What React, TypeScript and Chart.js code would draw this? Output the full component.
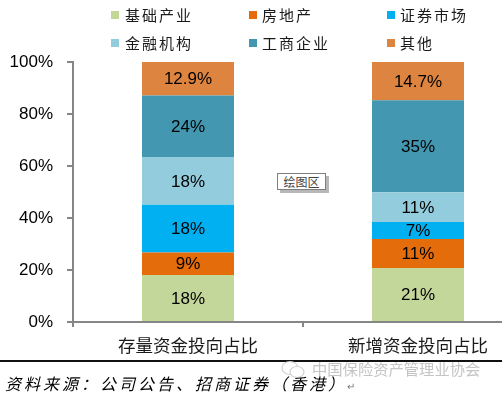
import React, { useEffect, useRef } from "react";
import { Chart, registerables } from "chart.js";

Chart.register(...registerables);

const categories = ["存量资金投向占比", "新增资金投向占比"];
const seriesNames = ["基础产业", "房地产", "证券市场", "金融机构", "工商企业", "其他"];
const seriesColors = ["#C4D79B", "#E46C0A", "#00B0F0", "#93CDDD", "#4397B0", "#DE8441"];
const labelDecimals = [0, 0, 0, 0, 0, 1];
const infraValues = [18.1, 20.8];
const realEstateValues = [8.6, 11.1];
const securitiesValues = [18.4, 6.6];
const finInstValues = [18.4, 11.4];
const industryValues = [23.6, 35.4];
const otherValues = [12.9, 14.7];
const seriesValues = [infraValues, realEstateValues, securitiesValues, finInstValues, industryValues, otherValues];
const yTicks = [0, 20, 40, 60, 80, 100];

const CANVAS_W = 540;
const CANVAS_H = 360;
const AXIS_GRAY = "#868686";

const valueLabelPlugin = {
  id: "valueLabels",
  afterDatasetsDraw(chart: any) {
    const ctx = chart.ctx;
    ctx.save();
    ctx.font = "17px 'Liberation Sans', Arial, sans-serif";
    ctx.fillStyle = "#000";
    ctx.textAlign = "center";
    ctx.textBaseline = "middle";
    chart.data.datasets.forEach((ds: any, di: number) => {
      const meta = chart.getDatasetMeta(di);
      meta.data.forEach((el: any, i: number) => {
        const v = ds.data[i];
        const txt = v.toFixed(labelDecimals[di]) + "%";
        ctx.fillText(txt, el.x, (el.y + el.base) / 2 + 1);
      });
    });
    ctx.restore();
  },
};

function ChartCanvas() {
  const ref = useRef<HTMLCanvasElement>(null);
  useEffect(() => {
    if (!ref.current) return;
    const chart = new Chart(ref.current, {
      type: "bar",
      data: {
        labels: categories,
        datasets: seriesNames.map((name, i) => ({
          label: name,
          data: seriesValues[i],
          backgroundColor: seriesColors[i],
          borderWidth: 0,
          categoryPercentage: 1,
          barPercentage: 0.4,
        })),
      },
      options: {
        responsive: false,
        animation: false,
        layout: { padding: { top: 62, right: 7, left: 0, bottom: 0 } },
        plugins: { legend: { display: false }, tooltip: { enabled: false }, title: { display: false } },
        scales: {
          x: {
            stacked: true,
            offset: true,
            grid: { display: true, drawOnChartArea: false, drawTicks: true, tickLength: 5, color: AXIS_GRAY, lineWidth: 2, offset: true },
            border: { display: true, color: AXIS_GRAY, width: 2 },
            ticks: { color: "#1a1a1a", padding: 8, font: { family: "'Noto Sans CJK SC', sans-serif", size: 17.5 } },
            afterFit: (s: any) => { s.height = CANVAS_H - 322; },
          },
          y: {
            stacked: true,
            min: 0,
            max: 100,
            afterBuildTicks: (s: any) => { s.ticks = yTicks.map((v) => ({ value: v })); },
            grid: { display: true, drawOnChartArea: false, drawTicks: true, tickLength: 6, color: AXIS_GRAY, lineWidth: 2 },
            border: { display: true, color: AXIS_GRAY, width: 2 },
            ticks: {
              color: "#000",
              padding: 14,
              font: { family: "'Liberation Sans', Arial, sans-serif", size: 17 },
              callback: (v: any) => v + "%",
            },
            afterFit: (s: any) => { s.width = 73; },
          },
        },
      },
      plugins: [valueLabelPlugin],
    });
    return () => chart.destroy();
  }, []);
  return <canvas ref={ref} width={CANVAS_W} height={CANVAS_H} style={{ width: CANVAS_W, height: CANVAS_H, display: "block" }} />;
}

const legendPos = [
  { sx: 111, tx: 125, cy: 15 },
  { sx: 249, tx: 262, cy: 15 },
  { sx: 387, tx: 400, cy: 15 },
  { sx: 111, tx: 125, cy: 43 },
  { sx: 249, tx: 262, cy: 43 },
  { sx: 387, tx: 400, cy: 43 },
];

export default function App() {
  const cjk = "'Noto Sans CJK SC', sans-serif";
  return (
    <div style={{ position: "fixed", left: 0, top: 0, width: 502, height: 395, overflow: "hidden", background: "#fff" }}>
      <div style={{ position: "absolute", left: 0, top: 0 }}>
        <ChartCanvas />
      </div>
      {seriesNames.map((name, i) => (
        <React.Fragment key={name}>
          <div style={{ position: "absolute", left: legendPos[i].sx, top: legendPos[i].cy - 4, width: 8, height: 8, background: seriesColors[i] }} />
          <div style={{ position: "absolute", left: legendPos[i].tx, top: legendPos[i].cy - 11, height: 22, lineHeight: "22px", fontFamily: cjk, fontSize: 15, letterSpacing: 2, color: "#1a1a1a", whiteSpace: "nowrap" }}>{name}</div>
        </React.Fragment>
      ))}
      <div style={{ position: "absolute", left: 280, top: 176, width: 49, height: 17, background: "#b8b8b8" }} />
      <div style={{ position: "absolute", left: 277, top: 173, width: 47, height: 15, border: "1px solid #7f7f7f", background: "#fff", fontFamily: cjk, fontSize: 12, lineHeight: "15px", textAlign: "center", color: "#444" }}>绘图区</div>
      <div style={{ position: "absolute", left: 0, top: 360, width: 502, height: 1.5, background: "#111" }} />
      <svg style={{ position: "absolute", left: 281, top: 360 }} width={26} height={20}>
        <ellipse cx={9} cy={8} rx={8} ry={6.5} fill="none" stroke="#d0d0d0" strokeWidth={1.2} />
        <ellipse cx={16} cy={12} rx={7} ry={5.5} fill="#fff" stroke="#d0d0d0" strokeWidth={1.2} />
      </svg>
      <div style={{ position: "absolute", left: 312, top: 357, height: 22, lineHeight: "22px", fontFamily: cjk, fontSize: 15.3, color: "#c4c4c4", whiteSpace: "nowrap" }}>中国保险资产管理业协会</div>
      <div style={{ position: "absolute", left: 5, top: 372, height: 22, lineHeight: "22px", fontFamily: cjk, fontSize: 16, fontStyle: "italic", letterSpacing: 3, color: "#000", whiteSpace: "nowrap" }}>
        资料来源：公司公告、招商证券（香港）<span style={{ fontSize: 10, color: "#777", fontStyle: "normal", letterSpacing: 0 }}>↵</span>
      </div>
    </div>
  );
}
